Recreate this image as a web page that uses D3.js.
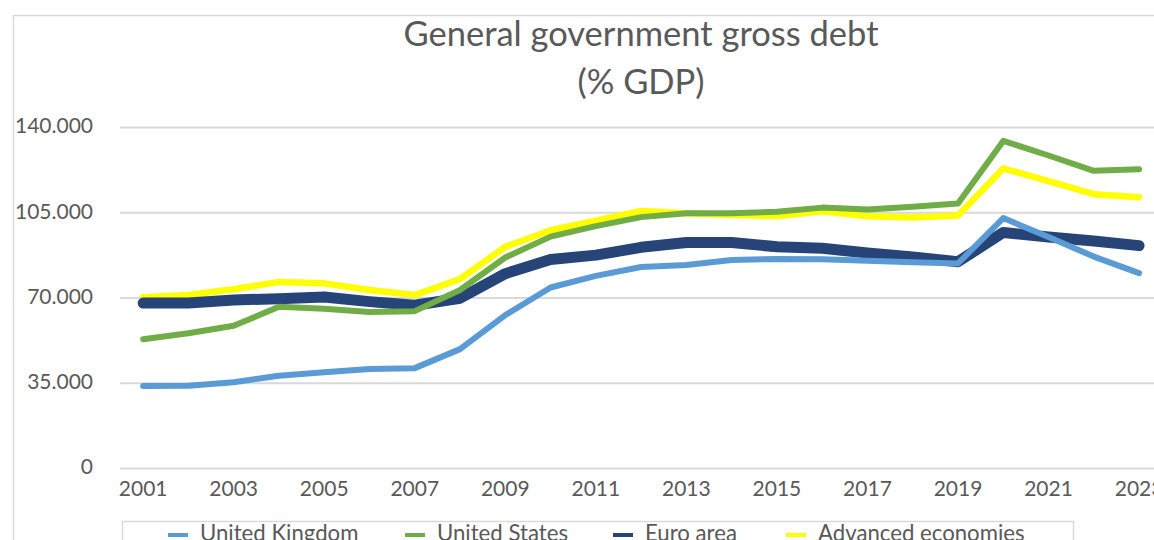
<!DOCTYPE html>
<html>
<head>
<meta charset="utf-8">
<script src="https://cdn.jsdelivr.net/npm/d3@7"></script>
<style>
  html, body { margin: 0; padding: 0; background: #fff; overflow: hidden; }
  svg { display: block; }
  text { font-family: Lato, "Open Sans", sans-serif; fill: #595959; }
</style>
</head>
<body>
<svg id="chart" width="1154" height="540"></svg>
<script>
// General government gross debt, % of GDP, 2001–2023
const years = d3.range(2001, 2024);
const yearTickLabels = [2001, 2003, 2005, 2007, 2009, 2011, 2013, 2015, 2017, 2019, 2021, 2023];
const valueTicks = [0, 35, 70, 105, 140];
const valueTickLabels = ["0", "35.000", "70.000", "105.000", "140.000"];

const seriesNames = ["United Kingdom", "United States", "Euro area", "Advanced economies"];

const unitedKingdom = [33.7, 33.8, 35.2, 37.9, 39.3, 40.6, 41.0, 48.8, 62.8, 74.1, 78.9, 82.5, 83.3, 85.4, 85.8, 85.7, 85.1, 84.5, 84.0, 102.6, 94.8, 86.8, 80.0];
const unitedStates  = [52.9, 55.3, 58.4, 66.2, 65.4, 64.0, 64.4, 73.1, 86.4, 95.0, 99.3, 103.0, 104.6, 104.6, 105.2, 106.9, 106.1, 107.3, 108.6, 134.3, 128.3, 122.0, 122.7];
const euroArea      = [67.7, 67.7, 69.0, 69.5, 70.2, 68.3, 66.8, 69.7, 79.8, 85.6, 87.4, 90.6, 92.6, 92.6, 90.8, 90.2, 88.3, 86.6, 84.7, 96.7, 94.8, 93.2, 91.3];
const advancedEcon  = [70.1, 71.0, 73.4, 76.4, 75.8, 73.1, 71.0, 77.6, 90.8, 97.6, 101.5, 105.5, 104.6, 103.9, 103.4, 105.4, 103.4, 102.8, 103.7, 123.0, 117.8, 112.4, 111.2];

const seriesColors = ["#5b9bd5", "#70ad47", "#264478", "#ffff00"];
const seriesWidths = [6, 6, 11, 6.5];
const seriesValues = [unitedKingdom, unitedStates, euroArea, advancedEcon];

const svg = d3.select("#chart");

// chart frame
svg.append("line").attr("x1", 13).attr("x2", 1154).attr("y1", 15.5).attr("y2", 15.5)
  .attr("stroke", "#d9d9d9").attr("stroke-width", 1.5);
svg.append("line").attr("x1", 13.5).attr("x2", 13.5).attr("y1", 15).attr("y2", 540)
  .attr("stroke", "#d9d9d9").attr("stroke-width", 1.5);

// title
const title = svg.append("text").attr("text-anchor", "middle").style("font-size", "34.5px");
title.append("tspan").attr("x", 641).attr("y", 46).text("General government gross debt");
title.append("tspan").attr("x", 641).attr("y", 94).text("(% GDP)");

// scales
const x = d3.scaleBand().domain(years).range([120.5, 1161.7]).paddingInner(0).paddingOuter(0);
const xc = d => x(d) + x.bandwidth() / 2;
const y = d3.scaleLinear().domain([0, 140]).range([468, 127]);

// horizontal gridlines
const yAxis = d3.axisLeft(y).tickValues(valueTicks)
  .tickSize(-(1154 - 120)).tickFormat((d, i) => valueTickLabels[i]);
const gy = svg.append("g").attr("transform", "translate(120,0)").call(yAxis);
gy.select(".domain").remove();
gy.selectAll(".tick line").attr("stroke", "#d9d9d9").attr("stroke-width", 1.8);
gy.selectAll(".tick text").attr("x", -27).attr("dy", "0.28em")
  .style("font-size", "21px").style("font-family", "Lato, 'Open Sans', sans-serif").attr("fill", "#595959");

// category axis labels
const xAxis = d3.axisBottom(x).tickValues(yearTickLabels).tickSize(0).tickFormat(d3.format("d"));
const gx = svg.append("g").attr("transform", "translate(0,468)").call(xAxis);
gx.select(".domain").remove();
gx.selectAll(".tick text").attr("y", 27.5).attr("dy", 0)
  .style("font-size", "21px").style("font-family", "Lato, 'Open Sans', sans-serif").attr("fill", "#595959");

// series lines (last series drawn first so the first sits on top)
const line = d3.line().x((d, i) => xc(years[i])).y(d => y(d));
const order = [3, 2, 1, 0];
svg.append("g").selectAll("path").data(order).join("path")
  .attr("d", i => line(seriesValues[i]))
  .attr("fill", "none")
  .attr("stroke", i => seriesColors[i])
  .attr("stroke-width", i => seriesWidths[i])
  .attr("stroke-linejoin", "round")
  .attr("stroke-linecap", "round");

// legend
svg.append("rect").attr("x", 122.5).attr("y", 521.5).attr("width", 951).attr("height", 40)
  .attr("fill", "none").attr("stroke", "#d9d9d9").attr("stroke-width", 1.5);
const legendX = [168, 405, 613, 786];
const lg = svg.append("g").selectAll("g").data(seriesNames).join("g")
  .attr("transform", (d, i) => `translate(${legendX[i]},0)`);
lg.append("line").attr("x1", 0).attr("x2", 20).attr("y1", 535).attr("y2", 535)
  .attr("stroke", (d, i) => seriesColors[i]).attr("stroke-width", 4);
lg.append("text").attr("x", 32).attr("y", 541).style("font-size", "22.2px").text(d => d);
</script>
</body>
</html>
